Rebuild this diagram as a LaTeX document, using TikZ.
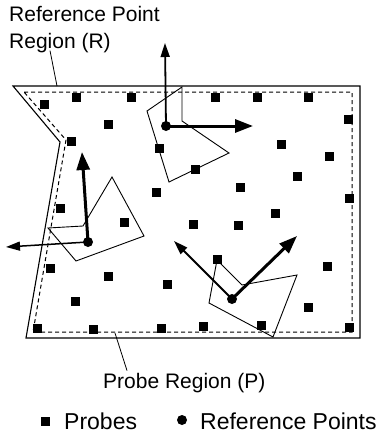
\documentclass[tikz,border=0pt]{standalone}
\usepackage{fontspec}
\setmainfont{Liberation Sans}
\usetikzlibrary{positioning,arrows.meta,calc}

\tikzset{
  probe/.style={fill=black, inner sep=0pt, minimum size=9pt},
  refpt/.style={circle, fill=black, inner sep=0pt, minimum size=10pt},
  regionR/.style={line width=1.1pt},
  regionP/.style={line width=1pt, dash pattern=on 4pt off 3pt},
  hull/.style={line width=0.9pt},
  thinarrow/.style={line width=1.8pt, -{Triangle[length=14pt,width=9pt]}},
  thickarrow/.style={line width=3pt, -{Triangle[length=18pt,width=13pt]}},
  lbl/.style={font=\fontsize{21}{27}\selectfont, inner sep=0pt},
  legend/.style={font=\fontsize{23}{27}\selectfont, inner sep=0pt}
}

\begin{document}
\begin{tikzpicture}[x=1pt, y=-1pt]
  \useasboundingbox (0,0) rectangle (383,434);

  % regions
  \draw[regionR] (13,86) -- (360,86) -- (360,338) -- (26,338) -- (60,142) -- cycle;
  \draw[regionP] (24,92) -- (352,92) -- (352,332) -- (33,332) -- (66,140) -- cycle;

  % neighbourhoods of the reference points
  \draw[hull] (182,87) -- (182,121) -- (229,153) -- (169,182) -- (147,111) -- cycle;
  \draw[hull] (48,228) -- (83,226) -- (112,177) -- (144,236) -- (76,261) -- cycle;
  \draw[hull] (217,260) -- (242,285) -- (297,275) -- (273,337) -- (209,303) -- cycle;

  % probes
  \foreach \px/\py [count=\i] in {44/104, 76/97, 131/97, 215/97, 257/97, 308/97,
      348/119, 108/124, 71/141, 159/148, 281/144, 329/156, 195/169, 297/176,
      240/187, 156/192, 349/198, 60/208, 275/213, 124/222, 193/224, 238/225,
      217/259, 327/266, 50/268, 108/276, 167/284, 75/301, 308/307, 37/328,
      93/329, 161/328, 203/326, 261/325, 349/327}
    \node[probe] (p\i) at (\px,\py) {};

  % reference points and their axes
  \node[refpt] (r1) at (166,126) {};
  \node[refpt] (r2) at (88,242) {};
  \node[refpt] (r3) at (232,299) {};

  \coordinate (r1up) at (165,43);
  \coordinate (r1right) at (253,126);
  \coordinate (r2up) at (82,152);
  \coordinate (r2left) at (6,247);
  \coordinate (r3left) at (174,241);
  \coordinate (r3right) at (297,236);

  \draw[thinarrow] (r1.center) -- (r1up);
  \draw[thickarrow] (r1.center) -- (r1right);
  \draw[thickarrow] (r2.center) -- (r2up);
  \draw[thinarrow, line width=1.5pt] (r2.center) -- (r2left);
  \draw[thinarrow] (r3.center) -- (r3left);
  \draw[thickarrow] (r3.center) -- (r3right);

  % labels
  \node[lbl, anchor=base west, align=left] (labR) at (9,48) {Reference Point\\Region (R)};
  \coordinate (onR) at (57,86);
  \draw[line width=0.8pt] (labR.south west) ++(41,-2) -- (onR);

  \node[lbl, anchor=base west] (labP) at (103,388) {Probe Region (P)};
  \coordinate (onP) at (115,333);
  \draw[line width=0.8pt] (labP.north west) ++(24,-2) -- (onP);

  % legend
  \node[probe] (keyp) at (45,421) {};
  \node[legend, anchor=base west] (keyptxt) at (64,429) {Probes};
  \node[refpt] (keyr) at (182,420) {};
  \node[legend, anchor=base west] (keyrtxt) at (200,429) {Reference Points};
\end{tikzpicture}
\end{document}
